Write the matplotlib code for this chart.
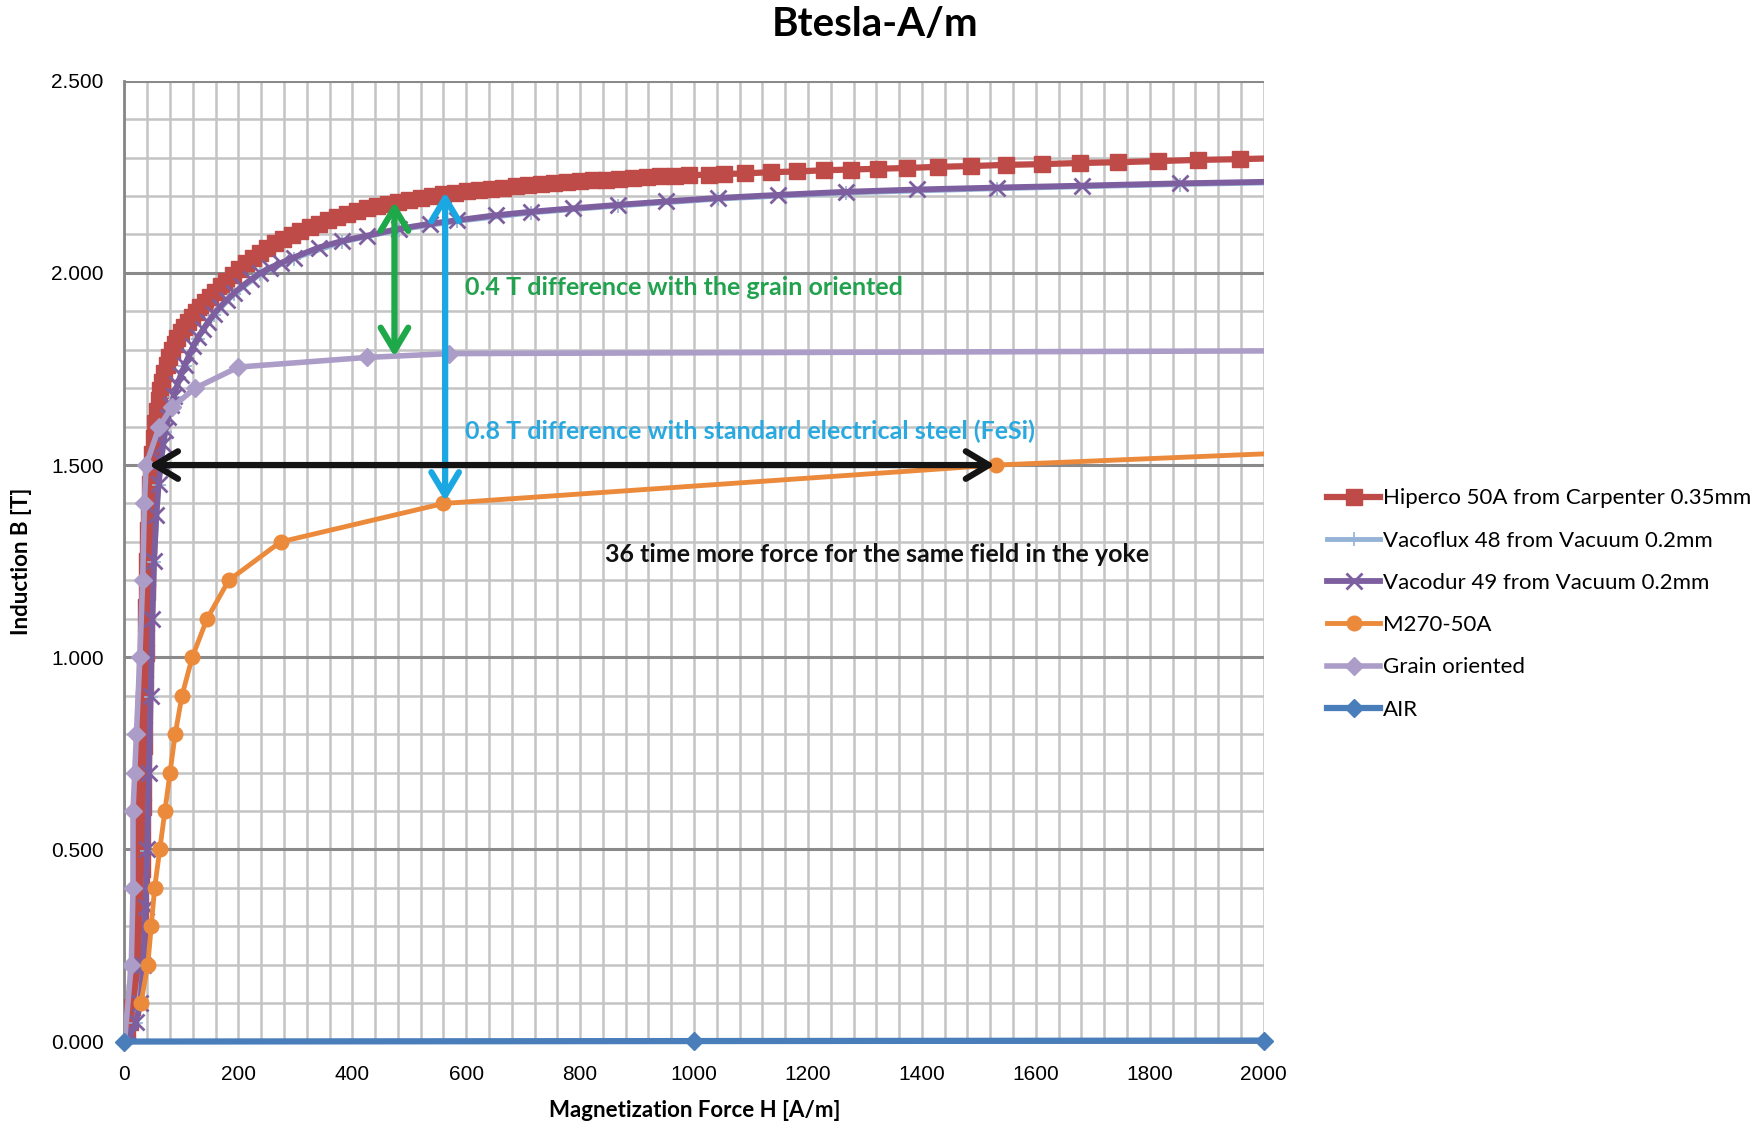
import matplotlib
matplotlib.use('Agg')
import matplotlib.pyplot as plt
from matplotlib.ticker import MultipleLocator, FormatStrFormatter

# B(H) curves, (H in A/m, B in T)
hiperco = [(0, 0), (5, 0.02), (10, 0.05), (14, 0.09), (18, 0.13), (21, 0.17), (23, 0.21),
           (25, 0.25), (26, 0.29), (27, 0.33), (28, 0.37), (29, 0.41), (30, 0.45), (30, 0.49),
           (31, 0.53), (31, 0.57), (32, 0.61), (32, 0.65), (33, 0.69), (33, 0.73), (34, 0.77),
           (34, 0.81), (35, 0.85), (35, 0.89), (36, 0.93), (36, 0.97), (37, 1.01), (37, 1.05),
           (38, 1.09), (38, 1.13), (39, 1.17), (39, 1.21), (40, 1.25), (41, 1.29), (42, 1.33),
           (43, 1.37), (44, 1.41), (45, 1.45), (47, 1.49), (49, 1.53), (51, 1.57), (54, 1.61),
           (57, 1.64), (60, 1.67), (63, 1.695), (66, 1.715), (70, 1.74), (74, 1.76), (78, 1.78),
           (83, 1.80), (88, 1.815), (93, 1.83), (99, 1.845), (105, 1.86), (111, 1.873),
           (118, 1.886), (125, 1.898), (133, 1.912), (141, 1.925), (150, 1.938), (159, 1.951),
           (169, 1.965), (179, 1.979), (190, 1.994), (201, 2.01), (213, 2.025), (225, 2.04),
           (238, 2.053), (251, 2.065), (265, 2.077), (279, 2.088), (294, 2.099), (309, 2.109),
           (325, 2.119), (341, 2.128), (357, 2.137), (374, 2.146), (391, 2.154), (408, 2.161),
           (426, 2.168), (444, 2.174), (462, 2.18), (481, 2.185), (500, 2.19), (520, 2.195),
           (540, 2.20), (560, 2.204), (580, 2.208), (601, 2.212), (622, 2.216), (643, 2.219),
           (665, 2.222), (687, 2.225), (709, 2.228), (731, 2.231), (754, 2.234), (777, 2.236),
           (800, 2.239), (823, 2.241), (846, 2.243), (869, 2.245), (893, 2.247), (917, 2.249),
           (941, 2.251), (966, 2.253), (991, 2.254), (1027, 2.256), (1052, 2.257), (1090, 2.259),
           (1135, 2.262), (1180, 2.264), (1228, 2.267), (1276, 2.269), (1323, 2.271),
           (1374, 2.273), (1429, 2.276), (1486, 2.278), (1547, 2.281), (1611, 2.283),
           (1678, 2.286), (1745, 2.288), (1815, 2.291), (1885, 2.294), (1959, 2.296),
           (2037, 2.299)]

vacodur_h = [0, 10, 20, 28, 33, 37, 40, 43, 46, 49, 52, 56, 60, 64, 68, 72, 77, 82, 87, 93,
             99, 106, 113, 121, 129, 138, 147, 157, 168, 180, 193, 207, 222, 238, 255, 275,
             297, 341, 382, 426, 482, 537, 584, 652, 713, 787, 866, 951, 1042, 1148, 1266,
             1391, 1531, 1681, 1853, 2040]
vacodur_b = [0, 0.02, 0.05, 0.1, 0.2, 0.35, 0.5, 0.7, 0.9, 1.1, 1.25, 1.37, 1.45, 1.51, 1.555,
             1.59, 1.625, 1.655, 1.68, 1.71, 1.735, 1.76, 1.785, 1.81, 1.832, 1.853, 1.873,
             1.893, 1.912, 1.93, 1.948, 1.966, 1.983, 1.999, 2.013, 2.026, 2.04, 2.066, 2.083,
             2.097, 2.115, 2.128, 2.137, 2.15, 2.159, 2.168, 2.177, 2.186, 2.195, 2.203, 2.211,
             2.217, 2.222, 2.227, 2.233, 2.238]

# hidden under Vacodur in the picture
vacoflux_h = [0, 20, 33, 40, 46, 52, 60, 72, 87, 106, 129, 157, 193, 238, 297, 382, 482,
              584, 713, 866, 1042, 1266, 1531, 1853, 2040]
vacoflux_b = [0, 0.047, 0.197, 0.497, 0.897, 1.247, 1.447, 1.587, 1.677, 1.757, 1.829, 1.89,
              1.945, 1.996, 2.037, 2.08, 2.112, 2.134, 2.156, 2.174, 2.192, 2.208, 2.219,
              2.23, 2.235]

m270_h = [29, 41, 47, 53, 62, 71, 80, 89, 101, 119, 145, 183, 274, 560, 1530, 2500]
m270_b = [0.1, 0.2, 0.3, 0.4, 0.5, 0.6, 0.7, 0.8, 0.9, 1.0, 1.1, 1.2, 1.3, 1.4, 1.5, 1.56]

grain_h = [0, 12, 15, 15, 18, 21, 27, 32, 35, 38, 61, 83, 124, 200, 425, 570, 2600]
grain_b = [0, 0.2, 0.4, 0.6, 0.7, 0.8, 1.0, 1.2, 1.4, 1.5, 1.6, 1.65, 1.7, 1.755, 1.78, 1.79, 1.80]

air_h = [0, 1000, 2000]
air_b = [0, 0.00126, 0.00251]

labels = ['Hiperco 50A from Carpenter 0.35mm', 'Vacoflux 48 from Vacuum 0.2mm',
          'Vacodur 49 from Vacuum 0.2mm', 'M270-50A', 'Grain oriented', 'AIR']

# annotation arrows (H, B)
green_arrow = [(474, 1.782), (474, 2.185)]
blue_arrow = [(563, 1.406), (563, 2.21)]
black_arrow = [(43, 1.5), (1528, 1.5)]

plt.rcParams['font.family'] = ['Lato', 'DejaVu Sans']

fig = plt.figure(figsize=(17.58, 11.26), dpi=100)
ax = fig.add_axes([0.0708, 0.075, 0.648, 0.8533])

hiperco_h = [p[0] for p in hiperco]
hiperco_b = [p[1] for p in hiperco]
ax.plot(hiperco_h, hiperco_b, color='#be4b48', lw=4.5, marker='s', ms=11.5, label=labels[0], zorder=3)
ax.plot(vacoflux_h, vacoflux_b, color='#95b3d7', lw=3.5, marker='+', ms=10, mew=1.2, label=labels[1], zorder=4)
ax.plot(vacodur_h, vacodur_b, color='#7d5fa0', lw=4.2, marker='x', ms=11, mew=2, label=labels[2], zorder=5)
ax.plot(m270_h, m270_b, color='#ec8a3c', lw=3.5, marker='o', ms=10.5, label=labels[3], zorder=6)
ax.plot(grain_h, grain_b, color='#ab9cc8', lw=4, marker='D', ms=9, label=labels[4], zorder=7)
ax.plot(air_h, air_b, color='#4a7ebb', lw=4.5, marker='D', ms=9, label=labels[5], zorder=8, clip_on=False)

ax.set_xlim(0, 2000)
ax.set_ylim(0, 2.5)
ax.xaxis.set_major_locator(MultipleLocator(200))
ax.xaxis.set_minor_locator(MultipleLocator(40))
ax.yaxis.set_major_locator(MultipleLocator(0.5))
ax.yaxis.set_minor_locator(MultipleLocator(0.1))
ax.yaxis.set_major_formatter(FormatStrFormatter('%.3f'))
ax.grid(True, which='minor', color='#c4c4c4', lw=1.8, zorder=0)
ax.grid(True, which='major', axis='x', color='#c4c4c4', lw=1.8, zorder=0)
ax.grid(True, which='major', axis='y', color='#8a8a8a', lw=2.2, zorder=0)
ax.set_axisbelow(True)
ax.tick_params(which='both', length=0)
ax.tick_params(axis='x', pad=17)
ax.tick_params(axis='y', pad=15)
for t in ax.get_xticklabels() + ax.get_yticklabels():
    t.set_family(['Liberation Sans', 'DejaVu Sans'])
    t.set_fontsize(15)
for s in ['top', 'right']:
    ax.spines[s].set_visible(False)
for s in ['left', 'bottom']:
    ax.spines[s].set_color('#868686')
    ax.spines[s].set_linewidth(2)

fig.text(0.498, 0.978, 'Btesla-A/m', ha='center', va='center', fontsize=29, weight='bold')
fig.text(0.395, 0.0135, 'Magnetization Force H [A/m]', ha='center', va='center',
         fontsize=16, weight='bold')
fig.text(0.0125, 0.5015, 'Induction B [T]', ha='center', va='center', rotation=90,
         fontsize=16, weight='bold')

arrow_style = '<->,head_length=0.75,head_width=0.45'
for pts, col in [(green_arrow, '#1fa84a'), (blue_arrow, '#1aa7e2'), (black_arrow, '#141414')]:
    ax.annotate('', xy=pts[1], xytext=pts[0],
                arrowprops=dict(arrowstyle=arrow_style, color=col, lw=4.5,
                                mutation_scale=22, shrinkA=0, shrinkB=0), zorder=10)

ax.text(598, 1.963, '0.4 T difference with the grain oriented', color='#22a24e',
        fontsize=18, weight='bold', va='center', zorder=11)
ax.text(598, 1.587, '0.8 T difference with standard electrical steel (FeSi)', color='#2aa9e0',
        fontsize=18, weight='bold', va='center', zorder=11)
ax.text(844, 1.266, '36 time more force for the same field in the yoke', color='#111111',
        fontsize=18, weight='bold', va='center', zorder=11)

ax.legend(loc='center left', bbox_to_anchor=(0.7435, 0.4636), bbox_transform=fig.transFigure,
          frameon=False, handlelength=2.4, handletextpad=0.1, labelspacing=1.0, fontsize=16)

fig.savefig('out.png', dpi=100)
